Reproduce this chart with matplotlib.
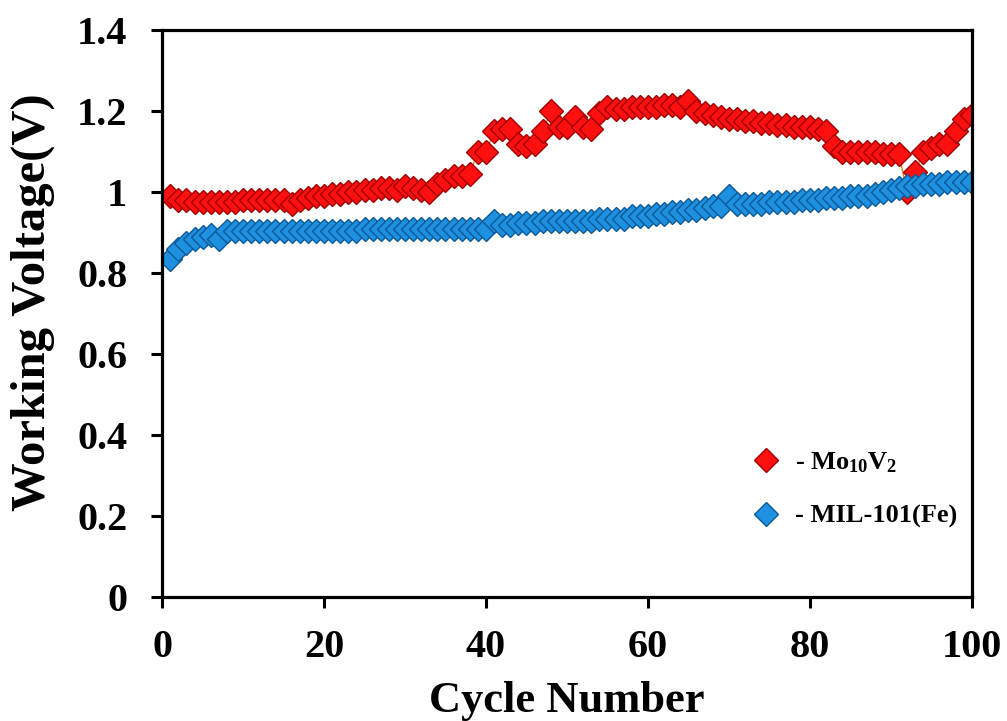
import numpy as np
import matplotlib
matplotlib.use("Agg")
import matplotlib.pyplot as plt

plt.rcParams['font.family'] = ['Liberation Serif', 'DejaVu Serif']
plt.rcParams['font.weight'] = 'bold'
plt.rcParams['mathtext.fontset'] = 'custom'
plt.rcParams['mathtext.rm'] = 'Liberation Serif:bold'
plt.rcParams['mathtext.it'] = 'Liberation Serif:bold:italic'
plt.rcParams['mathtext.bf'] = 'Liberation Serif:bold'

cycles = np.arange(1, 101)

mo10v2 = [
    0.99, 0.98, 0.98, 0.975, 0.975, 0.975, 0.975, 0.975, 0.975, 0.98,
    0.98, 0.98, 0.98, 0.98, 0.98, 0.97, 0.98, 0.985, 0.99, 0.99,
    0.995, 0.995, 1.0, 1.0, 1.005, 1.005, 1.01, 1.01, 1.005, 1.015,
    1.01, 1.005, 1.0, 1.02, 1.03, 1.04, 1.04, 1.045, 1.1, 1.1,
    1.15, 1.155, 1.155, 1.12, 1.115, 1.12, 1.15, 1.2, 1.16, 1.16,
    1.185, 1.16, 1.155, 1.195, 1.21, 1.205, 1.205, 1.21, 1.21, 1.21,
    1.21, 1.215, 1.215, 1.21, 1.225, 1.2, 1.195, 1.19, 1.185, 1.18,
    1.18, 1.175, 1.175, 1.17, 1.17, 1.165, 1.165, 1.16, 1.16, 1.16,
    1.155, 1.15, 1.115, 1.1, 1.1, 1.1, 1.1, 1.1, 1.095, 1.095,
    1.095, 1.0, 1.05, 1.1, 1.11, 1.12, 1.12, 1.15, 1.18, 1.19,
]

mil101 = [
    0.835, 0.86, 0.875, 0.885, 0.89, 0.895, 0.885, 0.905, 0.905, 0.905,
    0.905, 0.905, 0.905, 0.905, 0.905, 0.905, 0.905, 0.905, 0.905, 0.905,
    0.905, 0.905, 0.905, 0.905, 0.91, 0.91, 0.91, 0.91, 0.91, 0.91,
    0.91, 0.91, 0.91, 0.91, 0.91, 0.91, 0.91, 0.91, 0.91, 0.91,
    0.93, 0.92, 0.92, 0.925, 0.925, 0.925, 0.93, 0.93, 0.93, 0.93,
    0.93, 0.93, 0.93, 0.935, 0.935, 0.935, 0.935, 0.94, 0.94, 0.94,
    0.945, 0.945, 0.95, 0.95, 0.955, 0.955, 0.96, 0.965, 0.965, 0.99,
    0.97, 0.97, 0.97, 0.97, 0.975, 0.975, 0.975, 0.975, 0.98, 0.98,
    0.98, 0.985, 0.985, 0.985, 0.99, 0.99, 0.99, 0.995, 1.0, 1.005,
    1.01, 1.015, 1.015, 1.02, 1.02, 1.02, 1.025, 1.025, 1.025, 1.025,
]

fig = plt.figure(figsize=(10.07, 7.21), dpi=100)
ax = fig.add_axes([0.161, 0.172, 0.804, 0.786])

ax.plot(cycles, mo10v2, color='#f07a20', lw=1.0, marker='D', ms=12.5,
        mfc='#ff1010', mec='#a00000', mew=1.0, label=r'- Mo$_{10}$V$_{2}$')
ax.plot(cycles, mil101, color='#1a8ad8', lw=1.0, marker='D', ms=12.5,
        mfc='#1e90e0', mec='#0c5a96', mew=1.0, label='- MIL-101(Fe)')

ax.set_xlim(0, 100)
ax.set_ylim(0, 1.4)
ax.set_xticks([0, 20, 40, 60, 80, 100])
ax.set_yticks([0, 0.2, 0.4, 0.6, 0.8, 1.0, 1.2, 1.4])
ax.set_yticklabels(['0', '0.2', '0.4', '0.6', '0.8', '1', '1.2', '1.4'])

for sp in ax.spines.values():
    sp.set_linewidth(2.3)
ax.tick_params(direction='out', length=8, width=2.2, labelsize=29)
ax.tick_params(axis='y', pad=17)
ax.tick_params(axis='x', pad=15)
for lab in ax.get_xticklabels() + ax.get_yticklabels():
    lab.set_fontweight('bold')

ax.set_xlabel('Cycle Number', fontsize=32, fontweight='bold', labelpad=11)
ax.set_ylabel('Working Voltage(V)', fontsize=35, fontweight='bold')
ax.yaxis.set_label_coords(-0.132, 0.52)

leg = ax.legend(loc='upper left', bbox_to_anchor=(0.70, 0.30), frameon=False,
                prop={'size': 19, 'weight': 'bold'}, handlelength=1.0,
                handletextpad=0.6, labelspacing=1.1)
for h in leg.legend_handles:
    h.set_linestyle('none')

fig.savefig('out.png', dpi=100)
